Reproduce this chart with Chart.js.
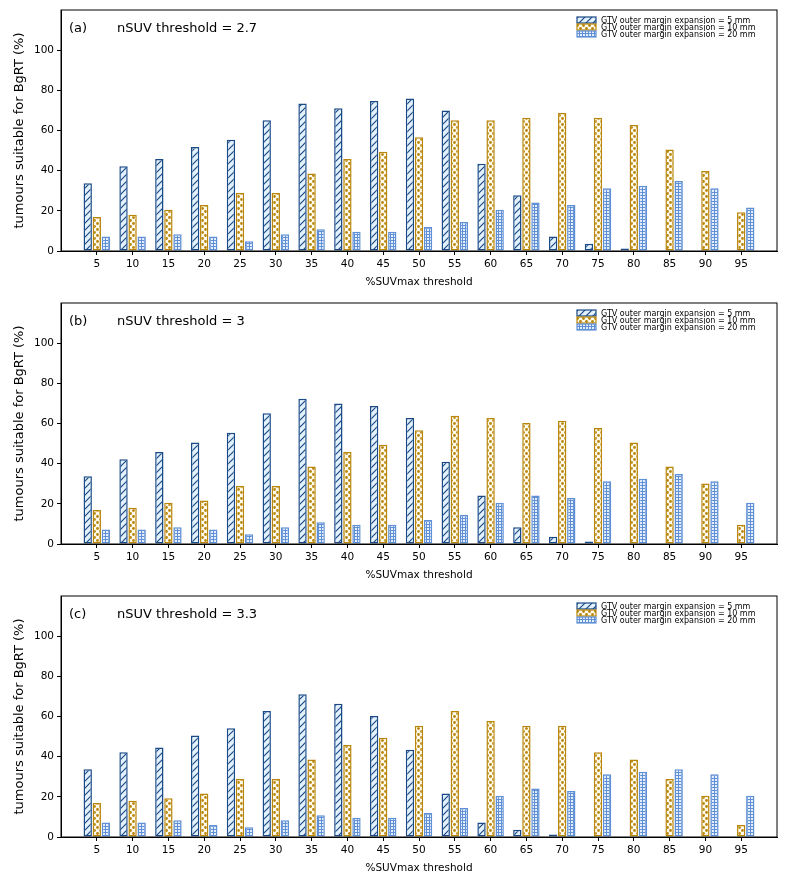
<!DOCTYPE html>
<html>
<head>
<meta charset="utf-8">
<script src="https://cdn.jsdelivr.net/npm/chart.js@4.4.1/dist/chart.umd.min.js"></script>
<style>
  body { margin: 0; background: #fff; }
  canvas { display: block; }
</style>
</head>
<body>
<canvas id="panelA" width="787" height="293"></canvas>
<canvas id="panelB" width="787" height="293"></canvas>
<canvas id="panelC" width="787" height="299"></canvas>
<script>
// %SUVmax thresholds (x categories)
const thresholds = ['5', '10', '15', '20', '25', '30', '35', '40', '45', '50',
                    '55', '60', '65', '70', '75', '80', '85', '90', '95'];
const yTicks = [0, 20, 40, 60, 80, 100];

const marginLabels = [
    'GTV outer margin expansion = 5 mm',
    'GTV outer margin expansion = 10 mm',
    'GTV outer margin expansion = 20 mm'
];

// (a) nSUV threshold = 2.7
const margin5A  = [33.7, 42.2, 45.8, 51.8, 55.4, 65.1, 73.5, 71.1, 74.7, 75.9, 69.9, 43.4, 27.7, 7.2, 3.6, 1.2, 0, 0, 0];
const margin10A = [16.9, 18.1, 20.5, 22.9, 28.9, 28.9, 38.6, 45.8, 49.4, 56.6, 65.1, 65.1, 66.3, 68.7, 66.3, 62.7, 50.6, 39.8, 19.3];
const margin20A = [7.2, 7.2, 8.4, 7.2, 4.8, 8.4, 10.8, 9.6, 9.6, 12.0, 14.5, 20.5, 24.1, 22.9, 31.3, 32.5, 34.9, 31.3, 21.7];

// (b) nSUV threshold = 3
const margin5B  = [33.7, 42.2, 45.8, 50.6, 55.4, 65.1, 72.3, 69.9, 68.7, 62.7, 41.0, 24.1, 8.4, 3.6, 1.2, 0, 0, 0, 0];
const margin10B = [16.9, 18.1, 20.5, 21.7, 28.9, 28.9, 38.6, 45.8, 49.4, 56.6, 63.9, 62.7, 60.2, 61.4, 57.8, 50.6, 38.6, 30.1, 9.6];
const margin20B = [7.2, 7.2, 8.4, 7.2, 4.8, 8.4, 10.8, 9.6, 9.6, 12.0, 14.5, 20.5, 24.1, 22.9, 31.3, 32.5, 34.9, 31.3, 20.5];

// (c) nSUV threshold = 3.3
const margin5C  = [33.7, 42.2, 44.6, 50.6, 54.2, 62.7, 71.1, 66.3, 60.2, 43.4, 21.7, 7.2, 3.6, 1.2, 0, 0, 0, 0, 0];
const margin10C = [16.9, 18.1, 19.3, 21.7, 28.9, 28.9, 38.6, 45.8, 49.4, 55.4, 62.7, 57.8, 55.4, 55.4, 42.2, 38.6, 28.9, 20.5, 6.0];
const margin20C = [7.2, 7.2, 8.4, 6.0, 4.8, 8.4, 10.8, 9.6, 9.6, 12.0, 14.5, 20.5, 24.1, 22.9, 31.3, 32.5, 33.7, 31.3, 20.5];

const FONT = '"DejaVu Sans", sans-serif';
const EDGE5 = '#1b4a86', EDGE10 = '#b8860b', EDGE20 = '#5f8fd4';

// hatch fills, a bit like matplotlib's '///', 'o' and '+'
function makePattern(ctx, kind) {
    const c = document.createElement('canvas');
    const p = c.getContext('2d');
    if (kind === 'diag') {
        c.width = c.height = 7;
        p.fillStyle = '#e2f1fc';
        p.fillRect(0, 0, 7, 7);
        p.strokeStyle = EDGE5;
        p.lineWidth = 1.2;
        p.beginPath();
        p.moveTo(-1, 8); p.lineTo(8, -1);
        p.moveTo(-1, 1); p.lineTo(1, -1);
        p.moveTo(6, 8); p.lineTo(8, 6);
        p.stroke();
    } else if (kind === 'dots') {
        c.width = c.height = 6;
        p.fillStyle = '#fffbee';
        p.fillRect(0, 0, 6, 6);
        p.fillStyle = EDGE10;
        p.beginPath(); p.arc(1.5, 1.5, 1.4, 0, Math.PI * 2); p.fill();
        p.beginPath(); p.arc(4.5, 4.5, 1.4, 0, Math.PI * 2); p.fill();
    } else {
        c.width = c.height = 3;
        p.fillStyle = '#e4eefc';
        p.fillRect(0, 0, 3, 3);
        p.fillStyle = EDGE20;
        p.fillRect(0, 0, 3, 1);
        p.fillRect(0, 0, 1, 3);
    }
    return ctx.createPattern(c, 'repeat');
}

// box round the axes, panel tag and the small legend in the top right corner
const panelDecor = {
    id: 'panelDecor',
    afterDraw(chart, args, opts) {
        const { ctx, chartArea: a } = chart;
        ctx.save();
        ctx.strokeStyle = '#000';
        ctx.lineWidth = 1;
        ctx.strokeRect(a.left, a.top, a.right - a.left, a.bottom - a.top);

        ctx.fillStyle = '#000';
        ctx.textBaseline = 'middle';
        ctx.font = '13px ' + FONT;
        ctx.fillText(opts.tag, a.left + 8, a.top + 19);
        ctx.fillText('nSUV threshold = ' + opts.nsuv, a.left + 56, a.top + 19);

        ctx.font = '8px ' + FONT;
        chart.data.datasets.forEach((ds, i) => {
            const y = a.top + 10 + i * 7;
            const x = a.right - 200;
            ctx.fillStyle = ds.backgroundColor;
            ctx.fillRect(x, y - 3, 19, 6);
            ctx.strokeStyle = ds.borderColor;
            ctx.lineWidth = 1.2;
            ctx.strokeRect(x, y - 3, 19, 6);
            ctx.fillStyle = '#000';
            ctx.fillText(ds.label, x + 24, y + 0.5);
        });
        ctx.restore();
    }
};

function makePanel(id, tag, nsuv, s5, s10, s20, padBottom) {
    const canvas = document.getElementById(id);
    const ctx = canvas.getContext('2d');
    // blank slots at 0 and 100 so the axis runs 0..100 like the original
    const labels = ['', ...thresholds, ''];
    const pad = arr => [null, ...arr, null];
    const common = { borderWidth: 1.5, borderSkipped: false, categoryPercentage: 0.76, barPercentage: 0.92 };

    new Chart(ctx, {
        type: 'bar',
        data: {
            labels: labels,
            datasets: [
                { label: marginLabels[0], data: pad(s5), backgroundColor: makePattern(ctx, 'diag'), borderColor: EDGE5, ...common },
                { label: marginLabels[1], data: pad(s10), backgroundColor: makePattern(ctx, 'dots'), borderColor: EDGE10, ...common },
                { label: marginLabels[2], data: pad(s20), backgroundColor: makePattern(ctx, 'grid'), borderColor: EDGE20, ...common }
            ]
        },
        options: {
            responsive: false,
            animation: false,
            layout: { padding: { top: 10, right: 10, left: 0, bottom: padBottom } },
            plugins: {
                legend: { display: false },
                tooltip: { enabled: false },
                panelDecor: { tag: tag, nsuv: nsuv }
            },
            scales: {
                x: {
                    offset: false,
                    grid: {
                        offset: false,
                        drawOnChartArea: false,
                        tickLength: 4,
                        tickColor: c => (c.index === 0 || c.index === labels.length - 1) ? 'rgba(0,0,0,0)' : '#000'
                    },
                    border: { color: '#000' },
                    ticks: { color: '#000', font: { family: FONT, size: 10.5 }, padding: 3, autoSkip: false, maxRotation: 0 },
                    title: { display: true, text: '%SUVmax threshold', color: '#000', font: { family: FONT, size: 10.5 }, padding: { top: 0, bottom: 4 } },
                    afterFit: s => { s.height = 42; }
                },
                y: {
                    min: 0,
                    max: 120,
                    afterBuildTicks: s => { s.ticks = yTicks.map(v => ({ value: v })); },
                    grid: { drawOnChartArea: false, tickLength: 4, tickColor: '#000' },
                    border: { color: '#000' },
                    ticks: { color: '#000', font: { family: FONT, size: 10.5 }, padding: 3 },
                    title: { display: true, text: 'tumours suitable for BgRT (%)', color: '#000', font: { family: FONT, size: 13 }, padding: { top: 12, bottom: 0 } },
                    afterFit: s => { s.width = 61; }
                }
            }
        },
        plugins: [panelDecor]
    });
}

makePanel('panelA', '(a)', '2.7', margin5A, margin10A, margin20A, 0);
makePanel('panelB', '(b)', '3', margin5B, margin10B, margin20B, 0);
makePanel('panelC', '(c)', '3.3', margin5C, margin10C, margin20C, 6);
</script>
</body>
</html>
